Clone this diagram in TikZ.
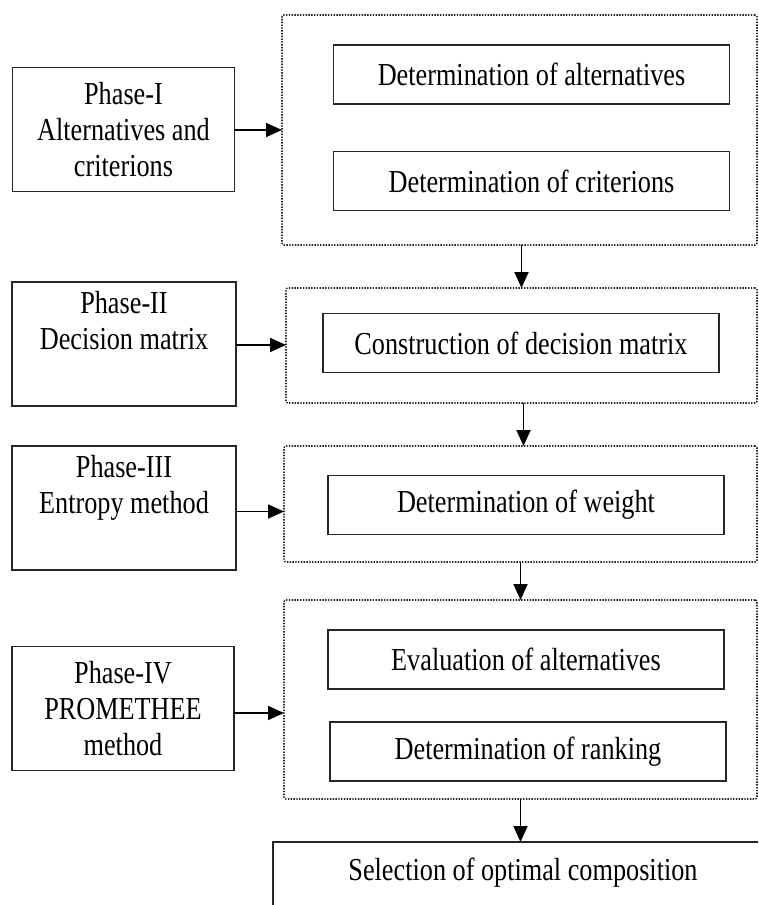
\documentclass[tikz,border=0pt]{standalone}
\usepackage{fontspec}
\setmainfont[FakeStretch=0.82]{Liberation Serif}
\usetikzlibrary{arrows.meta}

\begin{document}
\begin{tikzpicture}[x=1pt,y=-1pt,
  every node/.style={inner sep=0pt,outer sep=0pt},
  txt/.style={font=\fontsize{32}{36}\selectfont,text=black},
  phasebox/.style={txt,draw=black!85,line width=1.9pt,align=center,
    minimum width=#1,minimum height=124},
  stepbox/.style={txt,draw=black!85,line width=1.9pt,
    minimum width=396,minimum height=59},
  groupbox/.style={draw=black!85,line width=1.6pt,
    dash pattern=on 1.4pt off 1.4pt,rounded corners=2pt},
  link/.style={draw=black,line width=1.8pt,-{Triangle[length=16pt,width=14pt]}}]
\useasboundingbox (0,0) rectangle (758,905);
\clip (0,0) rectangle (758,905);

% dotted group frames
\node[groupbox,minimum width=475,minimum height=230] (d1) at (519.5,130) {};
\node[groupbox,minimum width=471,minimum height=115] (d2) at (521.5,345.5) {};
\node[groupbox,minimum width=473,minimum height=116] (d3) at (520.5,504) {};
\node[groupbox,minimum width=473,minimum height=199] (d4) at (520.5,699.5) {};

% phase boxes
\node[phasebox=222] (p1) at (123.5,129.5) {Phase-I\\Alternatives and\\criterions};
\node[phasebox=224] (p2) at (124,344) {Phase-II\\Decision matrix\\\strut};
\node[phasebox=224] (p3) at (124,508) {Phase-III\\Entropy method\\\strut};
\node[phasebox=222] (p4) at (123,708.5) {Phase-IV\\PROMETHEE\\method};

% steps inside the frames
\node[stepbox] (a1) at (531.5,74.5) {Determination of alternatives};
\node[stepbox] (a2) at (531.5,181) {Determination of criterions};
\node[stepbox] (b)  at (521,343) {Construction of decision matrix};
\node[stepbox] (c)  at (526,505) {Determination of weight};
\node[stepbox] (e1) at (526,659.5) {Evaluation of alternatives};
\node[stepbox] (e2) at (528,751.5) {Determination of ranking};

% final result box, running off the page
\node[txt,draw=black!85,line width=1.9pt,anchor=north west,
  minimum width=500,text height=38,text depth=80] (sel) at (273,842)
  {Selection of optimal composition};

% phase to frame arrows
\draw[link] ([yshift=-0.5]p1.east) -- ([yshift=-0.5]p1.east -| d1.west);
\draw[link] ([yshift=-1]p2.east) -- ([yshift=-1]p2.east -| d2.west);
\draw[link] ([yshift=-3.5]p3.east) -- ([yshift=-3.5]p3.east -| d3.west);
\draw[link] ([yshift=-4.5]p4.east) -- ([yshift=-4.5]p4.east -| d4.west);

% frame to frame arrows
\draw[link] ([xshift=2]d1.south) -- ([xshift=2]d1.south |- d2.north);
\draw[link] ([xshift=2]d2.south) -- ([xshift=2]d2.south |- d3.north);
\draw[link] (d3.south) -- (d3.south |- d4.north);
\draw[link] (d4.south) -- (d4.south |- sel.north);
\end{tikzpicture}
\end{document}
